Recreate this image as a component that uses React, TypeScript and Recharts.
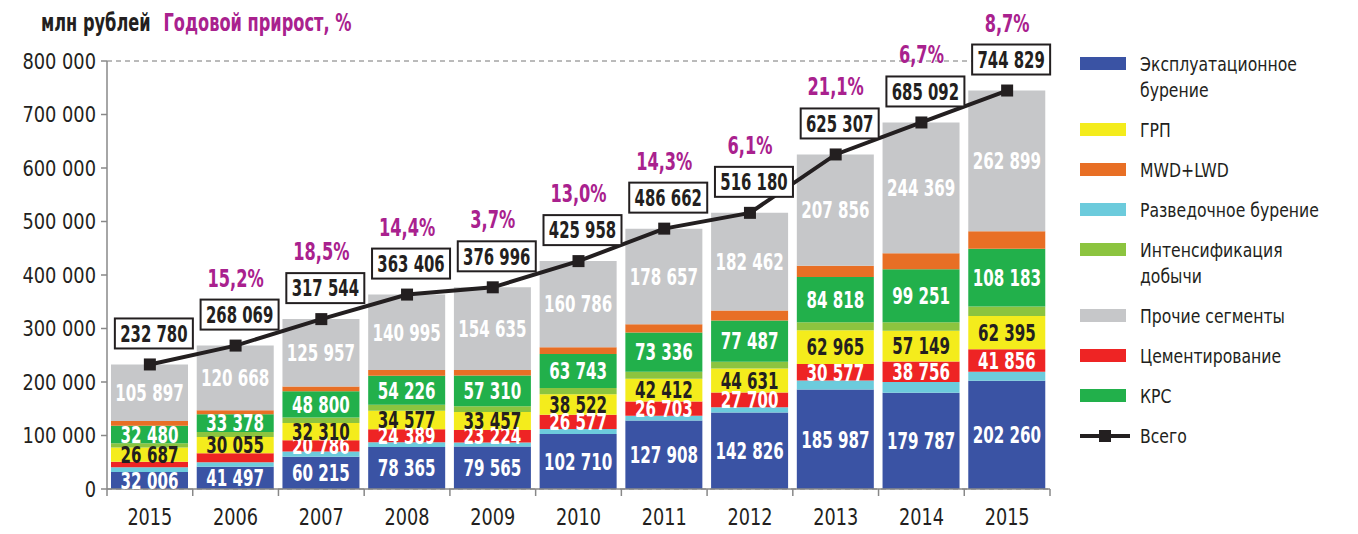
import {
    ComposedChart,
    Bar,
    Line,
    XAxis,
    YAxis,
    CartesianGrid,
    LabelList,
} from "recharts";

const years = ["2015", "2006", "2007", "2008", "2009", "2010", "2011", "2012", "2013", "2014", "2015"];

// млн рублей по сегментам
const production = [32006, 41497, 60215, 78365, 79565, 102710, 127908, 142826, 185987, 179787, 202260];
const exploration = [8500, 8500, 10000, 9000, 7500, 9300, 9000, 10000, 17000, 20000, 17000];
const cementing = [10500, 17000, 20786, 24389, 23224, 26577, 26703, 27700, 30577, 38756, 41856];
const fracturing = [26687, 30055, 32310, 34577, 33457, 38522, 42412, 44631, 62965, 57149, 62395];
const stimulation = [8000, 9500, 10500, 11000, 11000, 11500, 13000, 12500, 15000, 16000, 17500];
const workover = [32480, 33378, 48800, 54226, 57310, 63743, 73336, 77487, 84818, 99251, 108183];
const mwdLwd = [8710, 7471, 8976, 10854, 10305, 12820, 15646, 18574, 21104, 29780, 32736];
const other = [105897, 120668, 125957, 140995, 154635, 160786, 178657, 182462, 207856, 244369, 262899];
const totals = [232780, 268069, 317544, 363406, 376996, 425958, 486662, 516180, 625307, 685092, 744829];
const growth = [null, 15.2, 18.5, 14.4, 3.7, 13.0, 14.3, 6.1, 21.1, 6.7, 8.7];

const yTicks = [0, 100000, 200000, 300000, 400000, 500000, 600000, 700000, 800000];

const FONT = '"DejaVu Sans Condensed", "DejaVu Sans", sans-serif';
const PURPLE = "#a9218e";
const INK = "#231f20";

const COLORS = {
    production: "#3a53a4",
    exploration: "#6ccbdc",
    cementing: "#ee2424",
    fracturing: "#f4ec1c",
    stimulation: "#8cc43f",
    workover: "#22b04b",
    mwdLwd: "#e86f25",
    other: "#c6c7c9",
};

const W = 1350;
const H = 526;
const MARGIN = { top: 53, right: 308, bottom: 15, left: 8 };
const Y_WIDTH = 91;
const BAND = (W - MARGIN.left - MARGIN.right - Y_WIDTH) / years.length;

const data = years.map((year, i) => ({
    year,
    production: production[i],
    exploration: exploration[i],
    cementing: cementing[i],
    fracturing: fracturing[i],
    stimulation: stimulation[i],
    workover: workover[i],
    mwdLwd: mwdLwd[i],
    other: other[i],
    total: totals[i],
}));

const fmt = (v: number) => String(v).replace(/\B(?=(\d{3})+(?!\d))/g, " ");
const fmtPct = (v: number) => v.toFixed(1).replace(".", ",") + "%";

// condensed text: the installed fonts are too wide, squeeze horizontally
const NText = ({ x, y, sx, children, ...rest }: any) => (
    <text transform={`translate(${x},${y}) scale(${sx},1)`} fontFamily={FONT} {...rest}>
        {children}
    </text>
);

const segLabel = (color: string, min = 0) => (p: any) => {
    const { x, y, width, height, value, index } = p;
    if (value < min) return null;
    return (
        <NText
            key={`s-${index}`}
            x={x + width / 2}
            y={y + height / 2}
            sx={0.73}
            dy="0.36em"
            textAnchor="middle"
            fill={color}
            fontSize={23}
            fontWeight="bold"
        >
            {fmt(value)}
        </NText>
    );
};

const totalLabel = (p: any) => {
    const { x, y, value, index } = p;
    const bw = 78;
    const bh = 30;
    const bx = x + 4 - bw / 2;
    const by = y - 16 - bh;
    const g = growth[index];
    return (
        <g key={`t-${index}`}>
            <rect x={bx} y={by} width={bw} height={bh} fill="#fff" stroke={INK} strokeWidth={2} />
            <NText
                x={bx + bw / 2}
                y={by + bh / 2}
                sx={0.72}
                dy="0.36em"
                textAnchor="middle"
                fill={INK}
                fontSize={23}
                fontWeight="bold"
            >
                {fmt(value)}
            </NText>
            {g != null && (
                <NText x={x} y={by - 13} sx={0.75} textAnchor="middle" fill={PURPLE} fontSize={24} fontWeight="bold">
                    {fmtPct(g)}
                </NText>
            )}
        </g>
    );
};

const SquareDot = (p: any) => (
    <rect key={`d-${p.index}`} x={p.cx - 6} y={p.cy - 6} width={12} height={12} fill={INK} />
);

const XTick = (p: any) => {
    const { x, y, payload, index } = p;
    const left = x - BAND / 2;
    const right = x + BAND / 2;
    return (
        <g>
            <line x1={left} x2={left} y1={y - 12} y2={y - 5} stroke="#888" strokeWidth={1.5} />
            {index === years.length - 1 && (
                <line x1={right} x2={right} y1={y - 12} y2={y - 5} stroke="#888" strokeWidth={1.5} />
            )}
            <NText x={x} y={y} sx={0.855} dy={24} textAnchor="middle" fill={INK} fontSize={23}>
                {payload.value}
            </NText>
        </g>
    );
};

const YTick = (p: any) => (
    <NText x={p.x} y={p.y} sx={0.9} dy="0.36em" textAnchor="end" fill={INK} fontSize={22}>
        {fmt(p.payload.value)}
    </NText>
);

const legendItems = [
    { name: ["Эксплуатационное", "бурение"], color: COLORS.production },
    { name: ["ГРП"], color: COLORS.fracturing },
    { name: ["MWD+LWD"], color: COLORS.mwdLwd },
    { name: ["Разведочное бурение"], color: COLORS.exploration },
    { name: ["Интенсификация", "добычи"], color: COLORS.stimulation },
    { name: ["Прочие сегменты"], color: COLORS.other },
    { name: ["Цементирование"], color: COLORS.cementing },
    { name: ["КРС"], color: COLORS.workover },
    { name: ["Всего"], color: null },
];

const ChartLegend = () => (
    <div style={{ position: "absolute", left: 1072, top: 43, fontFamily: FONT, fontSize: 20, color: INK }}>
        {legendItems.map((it) => (
            <div key={it.name.join(" ")} style={{ position: "relative", marginBottom: 14, lineHeight: "26px" }}>
                {it.color ? (
                    <div
                        style={{
                            position: "absolute",
                            left: 0,
                            top: 6,
                            width: 46,
                            height: 13,
                            background: it.color,
                        }}
                    />
                ) : (
                    <svg style={{ position: "absolute", left: 0, top: 5 }} width={50} height={16}>
                        <line x1={0} x2={50} y1={8} y2={8} stroke={INK} strokeWidth={4} />
                        <rect x={19} y={2} width={12} height={12} fill={INK} />
                    </svg>
                )}
                <div style={{ marginLeft: 60, transform: "scaleX(0.87)", transformOrigin: "left", whiteSpace: "nowrap" }}>
                    {it.name.map((l) => (
                        <div key={l}>{l}</div>
                    ))}
                </div>
            </div>
        ))}
    </div>
);

const App = () => {
    return (
        <div style={{ position: "relative", width: W, height: H, fontFamily: FONT }}>
            <div
                style={{
                    position: "absolute",
                    left: 33,
                    top: 0,
                    fontSize: 25,
                    lineHeight: "30px",
                    fontWeight: "bold",
                    whiteSpace: "nowrap",
                    transform: "scaleX(0.72)",
                    transformOrigin: "left",
                }}
            >
                <span style={{ color: INK }}>млн рублей</span>
                <span style={{ color: PURPLE, marginLeft: 18 }}>Годовой прирост, %</span>
            </div>
            <ComposedChart width={W} height={H} data={data} margin={MARGIN}>
                <CartesianGrid vertical={false} stroke="#777" strokeDasharray="5 4" />
                <XAxis
                    dataKey="year"
                    height={30}
                    tickSize={8}
                    tickMargin={4}
                    tickLine={false}
                    axisLine={{ stroke: "#888", strokeWidth: 1.5 }}
                    tick={<XTick />}
                    interval={0}
                />
                <YAxis
                    yAxisId="l"
                    width={Y_WIDTH}
                    domain={[0, 800000]}
                    ticks={yTicks}
                    tickSize={6}
                    tickMargin={5}
                    axisLine={{ stroke: "#888", strokeWidth: 1.5 }}
                    tickLine={{ stroke: "#888", strokeWidth: 1.5 }}
                    tick={<YTick />}
                />
                <YAxis
                    yAxisId="r"
                    orientation="right"
                    width={0}
                    domain={[0, 800000]}
                    tick={false}
                    tickLine={false}
                    axisLine={{ stroke: "#888", strokeWidth: 1.5 }}
                />
                <Bar yAxisId="l" dataKey="production" stackId="a" barSize={77} fill={COLORS.production} isAnimationActive={false}>
                    <LabelList dataKey="production" content={segLabel("#fff")} />
                </Bar>
                <Bar yAxisId="l" dataKey="exploration" stackId="a" barSize={77} fill={COLORS.exploration} isAnimationActive={false} />
                <Bar yAxisId="l" dataKey="cementing" stackId="a" barSize={77} fill={COLORS.cementing} isAnimationActive={false}>
                    <LabelList dataKey="cementing" content={segLabel("#fff", 20000)} />
                </Bar>
                <Bar yAxisId="l" dataKey="fracturing" stackId="a" barSize={77} fill={COLORS.fracturing} isAnimationActive={false}>
                    <LabelList dataKey="fracturing" content={segLabel(INK)} />
                </Bar>
                <Bar yAxisId="l" dataKey="stimulation" stackId="a" barSize={77} fill={COLORS.stimulation} isAnimationActive={false} />
                <Bar yAxisId="l" dataKey="workover" stackId="a" barSize={77} fill={COLORS.workover} isAnimationActive={false}>
                    <LabelList dataKey="workover" content={segLabel("#fff")} />
                </Bar>
                <Bar yAxisId="l" dataKey="mwdLwd" stackId="a" barSize={77} fill={COLORS.mwdLwd} isAnimationActive={false} />
                <Bar yAxisId="l" dataKey="other" stackId="a" barSize={77} fill={COLORS.other} isAnimationActive={false}>
                    <LabelList dataKey="other" content={segLabel("#fff")} />
                </Bar>
                <Line
                    yAxisId="l"
                    dataKey="total"
                    type="linear"
                    stroke={INK}
                    strokeWidth={4}
                    dot={SquareDot}
                    activeDot={false}
                    isAnimationActive={false}
                >
                    <LabelList dataKey="total" content={totalLabel} />
                </Line>
            </ComposedChart>
            <ChartLegend />
        </div>
    );
};

export default App;
